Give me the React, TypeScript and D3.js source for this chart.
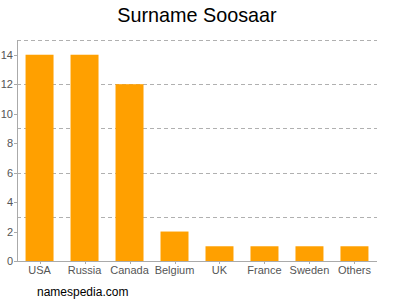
import React from "react";
import * as d3 from "d3";

const categories = ["USA", "Russia", "Canada", "Belgium", "UK", "France", "Sweden", "Others"];
const values = [14, 14, 12, 2, 1, 1, 1, 1];
const yTicks = [0, 2, 4, 6, 8, 10, 12, 14];
const gridValues = [3, 6, 9, 12, 15];

export default function App() {
  const W = 400, H = 300;
  const left = 17, right = 377, top = 40, bottom = 261;
  const x = d3.scaleBand<string>().domain(categories).range([left, right]).paddingInner(0.378).paddingOuter(0.19);
  const y = d3.scaleLinear().domain([0, 15]).range([bottom, top]);
  const font = "Arial, 'Liberation Sans', sans-serif";
  return (
    <svg width={W} height={H} style={{ position: "absolute", left: 0, top: 0, background: "#fff" }}>
      <text x={197} y={21.5} textAnchor="middle" fontFamily={font} fontSize={19.8} fill="#000">Surname Soosaar</text>
      {gridValues.map((g) => (
        <line key={g} x1={left} x2={right} y1={Math.round(y(g)) + 0.5} y2={Math.round(y(g)) + 0.5} stroke="#b0b0b0" strokeDasharray="4,3" strokeWidth={1} />
      ))}
      {categories.map((c, i) => (
        <rect key={c} x={x(c)} y={y(values[i])} width={x.bandwidth()} height={bottom - y(values[i])} fill="#ffa000" />
      ))}
      <line x1={left + 0.5} x2={left + 0.5} y1={top} y2={bottom} stroke="#aaa" />
      <line x1={left} x2={right} y1={bottom + 0.5} y2={bottom + 0.5} stroke="#aaa" />
      {yTicks.map((t) => (
        <g key={t}>
          <line x1={left - 3} x2={left} y1={Math.round(y(t)) + 0.5} y2={Math.round(y(t)) + 0.5} stroke="#aaa" />
          <text x={left - 4} y={y(t) + 4} textAnchor="end" fontFamily={font} fontSize={11} fill="#555">{t}</text>
        </g>
      ))}
      {categories.map((c) => (
        <g key={c}>
          <line x1={Math.round(x(c)! + x.bandwidth() / 2) + 0.5} x2={Math.round(x(c)! + x.bandwidth() / 2) + 0.5} y1={bottom} y2={bottom + 3} stroke="#aaa" />
          <text x={x(c)! + x.bandwidth() / 2} y={274} textAnchor="middle" fontFamily={font} fontSize={11} fill="#555">{c}</text>
        </g>
      ))}
      <text x={37} y={296} fontFamily={font} fontSize={12} fill="#000">namespedia.com</text>
    </svg>
  );
}
